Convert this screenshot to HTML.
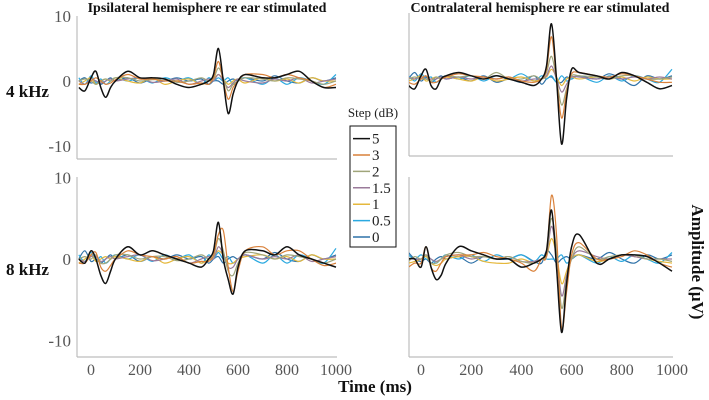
<!DOCTYPE html>
<html><head><meta charset="utf-8"><style>
body{margin:0;background:#fff;}
svg{display:block;font-family:"Liberation Serif",serif;}
</style></head><body>
<svg id="chart" width="709" height="400" viewBox="0 0 709 400">
<g font-weight="bold" font-size="14" fill="#111">
<text x="207" y="12" text-anchor="middle">Ipsilateral hemisphere re ear stimulated</text>
<text x="540" y="12" text-anchor="middle">Contralateral hemisphere re ear stimulated</text>
<text x="6" y="97" font-size="17">4 kHz</text>
<text x="6" y="275" font-size="17">8 kHz</text>
<text x="375" y="392" text-anchor="middle" font-size="17">Time (ms)</text>
<text transform="translate(692,262) rotate(90)" text-anchor="middle" font-size="17">Amplitude (μV)</text>
</g>
<g id="panels"></g>
<g>
<text x="373" y="117" text-anchor="middle" font-size="13" fill="#222">Step (dB)</text>
<rect x="350" y="126" width="46" height="121" fill="#fff" stroke="#111" stroke-width="1"/>
<g id="legend-items"></g>
</g>
</svg>
<script>
const times=[-50,-25,0,20,40,60,80,100,150,200,250,300,350,400,450,480,500,520,540,560,580,600,630,700,750,800,850,900,950,1000];
const stepLabels=["5","3","2","1.5","1","0.5","0"];
const colors=["#111111","#d9813a","#a0a57a","#9a7a9a","#e5b83c","#2aa9e0","#2f72a8"];
const yTicks=[10,0,-10];
const xTicks=[0,200,400,600,800,1000];
const ipsi4=[
[-1,-1.5,0.5,1.5,-1,-2.5,-1,0,1.5,0.5,0.5,0.3,-0.5,-1,-0.5,0,1,5,0,-5,-2,0,1,0.5,0.5,1,1.5,0,-1,-1],
[-0.5,-0.5,0,0.5,0,-0.5,-0.3,0.2,1,0.3,0.3,0,0,-0.5,-0.3,-0.5,0.5,3,0,-2.8,-1,0,1,1,0.5,1,0.5,0,-1,-0.5],
[0,0.3,0,-0.5,0,0.3,0,0.5,0.5,0,0.2,0.3,-0.2,0,0.5,0,0.3,2,0.5,-1.5,-0.5,0,0.5,0.3,0,0.5,0.3,0,-0.5,0],
[0,-0.5,0.3,0,-0.3,0,0.3,0,0.3,0.5,-0.2,0,0.3,-0.5,0,0.3,0,1,0,-1,-0.3,0.3,0,-0.3,0.3,0,0.5,-0.3,0,0.3],
[-0.5,0,0.5,-0.5,0,0.3,0,0.5,0,-0.3,0.5,-0.5,0,0.3,-0.5,0,0.3,1,0.3,-0.5,0,0.3,-0.3,0.5,0,0.3,-0.3,0.5,0,0],
[0.5,-0.5,0.8,-0.3,0.3,-0.5,0,0.5,0,0.5,-0.3,0.5,0,0.5,-0.5,0.5,0,0.5,0,0.5,-0.5,0,0.5,-0.5,0.5,-0.5,0.5,0,-0.5,1],
[0,0.5,-0.3,0,-0.5,0,0.5,0,0.5,-0.3,0.3,0,0.5,0,0.3,-0.5,0,0,-0.5,0,0.3,0,0.5,0,0.8,0,-0.3,0.5,0,0.5]];
const contra4=[
[-1,-1.5,0.5,1.5,-1,-1.5,0,0.5,1,0.5,0,0.5,0,-0.5,-1,0,2,8.5,0,-10,-3,1.5,1,0.5,0,1,0.5,-0.5,-1.5,-1],
[-0.5,-0.8,0,0.5,-0.5,-0.5,0,0.3,0.8,0.5,0.3,0,0.3,-0.3,-0.5,0,1.5,6.5,0,-6,-2,0.8,1,0.5,0.3,0.8,0.5,0,-0.5,-0.5],
[0,0.3,0,0,-0.3,0.3,0,0.5,0.3,0.5,0,1,0,0,0.5,0,1,3.5,0,-4,-1.5,0.5,0.5,0.3,0,0.5,0.5,0,0,0.3],
[0.3,0,0.3,0,0,0,0.3,0,0.3,0,0.3,0,0.3,-0.3,0,0,0.5,2,0,-2,-0.8,0.3,0.3,0,0.3,0,0.3,0,0.3,0],
[-0.3,0,0.5,-0.3,0,0.3,0,0.3,0,-0.3,0.3,-0.3,0,0.3,-0.3,0,0.3,1.5,0.3,-1,0,0.3,0,0.3,0,0.3,-0.3,0.3,0,0],
[0.5,-0.3,0.8,0,0.3,-0.5,0,0.5,0,0.5,-0.3,0.5,0,0.8,-0.3,0.5,0,0.5,-0.5,0.5,-0.3,0,0.5,-0.5,0.5,-0.3,0.5,0,-0.5,1.5],
[0,1,-0.3,0.3,-0.5,0,0.5,0,0.3,-0.3,0.5,-0.5,0,-0.5,0.5,-0.8,0,0.3,-0.5,-0.5,0.3,0,0.5,0,0.8,0,-1,0.5,0,0.5]];
const ipsi8=[
[0,-0.5,1,0,-2,-3,-1.5,0,1.5,0.5,1,0.5,0,-0.5,-1,0,1,4.5,0,-2.5,-4.3,-1,1,1,0.5,1.5,0.5,0,-0.5,-1],
[-0.5,-0.5,0.5,0.8,-1,-1.5,-0.8,0,1,0.5,0.3,0,0.3,-0.5,-0.3,-0.3,0.5,3,3.5,-1,-4,-1.5,1,1.5,0.5,1,1,0,-0.8,-0.5],
[0,0.3,0,0.5,-0.5,-0.5,0,0.5,0.5,0,0.3,0.3,-0.2,0,0.5,0,0.3,2.5,1,-1.5,-2,-0.5,0.8,0.5,0,0.5,0.3,0,-0.5,0],
[0,-0.3,0.3,0.3,-0.3,0,0.3,0,0.3,0.5,-0.2,0,0.3,-0.5,0,0.3,0,1.5,0.5,-1,-1,0,0.5,0,0.3,0,0.5,-0.3,0,0.3],
[-0.5,0,0.5,-0.3,0,0.3,0,0.3,0,-0.3,0.3,-0.5,0,0.3,-0.5,0,0.3,1,0.5,-0.5,-0.5,0,0.3,0.5,0,0.3,-0.3,0.5,0,0],
[0.5,-0.3,0.8,-0.3,0.3,-0.5,0,0.5,0,0.5,-0.3,0.5,0,0.5,-0.5,0.5,0,0.8,0,0.3,-0.5,0,0.5,-0.5,0.5,-0.5,0.5,0,-0.5,1.3],
[0,1,-0.3,0,-0.5,0,0.5,0,0.5,-0.3,0.3,0,0.5,0,0.3,-0.5,0,0.3,-0.5,0,0.3,0,0.5,0,0.8,0,-0.3,0.5,0,0.5]];
const contra8=[
[0,0,-1,1.5,-1,-2.5,-2,-0.5,1.5,1,0.5,0,0,-1,-0.5,0,1,6,-1,-9,-3,1.5,3,-0.5,0,0.5,0.5,0.3,-0.5,-1.5],
[-1,-0.5,-0.5,1.5,-1,-1.5,-0.5,0.3,0.5,0.5,0.8,0.3,0,-0.5,-1.5,0,0.5,7.8,3,-8.5,-4,0.5,2,0,0,0.3,1,0.5,-0.5,-1],
[-0.3,0.3,0,0.5,-0.5,-0.5,0,0.5,0.8,0.3,0.3,0,0.3,-0.3,-0.5,0,0.5,5,1,-6,-2.5,0,1.5,0,0.3,0.5,0.5,0,0,-0.3],
[0,0,0,0.5,0,-0.3,0,0.3,0.5,0,0.3,0,0.3,-0.3,-0.3,0,0.3,4,0.5,-4.5,-2,0,1,0.3,0,0.5,0.3,0,0,0],
[-0.5,-0.3,0,0.3,-0.5,-0.8,-0.5,0,0.3,0.3,-0.3,-0.5,-0.5,0,-0.5,0,0.3,2.5,0.5,-3,-1.5,0,0.5,-0.3,0,0.5,0.3,0,-0.3,-0.5],
[0.5,0,0.5,0,0,-0.5,0,0.5,0,0.5,-0.3,0.5,0,0.5,-0.3,0.5,0,0,0,0.5,-0.5,0,0.5,-0.5,0.3,-0.3,0.5,0,-0.5,0.8],
[0.8,0,-0.3,0,-0.5,0,0.3,0,0.3,-0.5,0.3,0,0,0.5,-0.3,-0.5,1,0.5,-0.5,0,0.3,0,0.5,0,0.8,0,-0.5,0.5,0,0.5]];

const NS="http://www.w3.org/2000/svg";
const panelsG=document.getElementById('panels');
function mk(tag,attrs,parent){const e=document.createElementNS(NS,tag);for(const k in attrs)e.setAttribute(k,attrs[k]);parent.appendChild(e);return e;}
const panels=[
{name:'ipsi-4khz',data:ipsi4,ax:77,x0:91,x1000:336,xEnd:337,yTop:16,yBot:159,y0:81,yk:6.5,yLabels:true,xLabels:false},
{name:'contra-4khz',data:contra4,ax:409,x0:421,x1000:672,xEnd:673,yTop:13,yBot:156,y0:79,yk:6.5,yLabels:false,xLabels:false},
{name:'ipsi-8khz',data:ipsi8,ax:77,x0:91,x1000:336,xEnd:337,yTop:177,yBot:357,y0:259,yk:8.15,yLabels:true,xLabels:true},
{name:'contra-8khz',data:contra8,ax:409,x0:421,x1000:672,xEnd:673,yTop:177,yBot:357,y0:259,yk:8.15,yLabels:false,xLabels:true}];
panels.forEach((p,pi)=>{
  const g=mk('g',{},panelsG);
  
  
  const xs=t=>p.x0+t*(p.x1000-p.x0)/1000;
  const ys=v=>p.y0-v*p.yk;
  const cid='clip'+pi;
  const cp=mk('clipPath',{id:cid},g);
  mk('rect',{x:p.ax,y:p.yTop,width:p.xEnd-p.ax,height:p.yBot-p.yTop},cp);
  const ya=mk('line',{x1:p.ax,y1:p.yTop,x2:p.ax,y2:p.yBot,stroke:'#bdbdbd','stroke-width':1.2},g);
  
  
  const xa=mk('line',{x1:p.ax,y1:p.yBot,x2:p.xEnd,y2:p.yBot,stroke:'#bdbdbd','stroke-width':1.2},g);
  
  
  if(p.yLabels){yTicks.forEach(v=>{const t=mk('text',{x:p.ax-6,y:ys(v)+6,'text-anchor':'end','font-size':17,fill:'#555'},g);t.textContent=v;
    
    });}
  if(p.xLabels){xTicks.forEach(v=>{const t=mk('text',{x:xs(v),y:p.yBot+18,'text-anchor':'middle','font-size':16,fill:'#555'},g);t.textContent=v;
    
    });}
  const lg=mk('g',{'clip-path':'url(#'+cid+')'},g);
  for(let s=p.data.length-1;s>=0;s--){
    const pts=times.map((t,i)=>[xs(t),ys(p.data[s][i])]);
    let d='M'+pts[0][0].toFixed(1)+','+pts[0][1].toFixed(1);
    for(let i=0;i<pts.length-1;i++){
      const a=pts[Math.max(0,i-1)],b=pts[i],c=pts[i+1],e=pts[Math.min(pts.length-1,i+2)];
      const c1=[b[0]+(c[0]-a[0])/6,b[1]+(c[1]-a[1])/6],c2=[c[0]-(e[0]-b[0])/6,c[1]-(e[1]-b[1])/6];
      d+='C'+c1[0].toFixed(1)+','+c1[1].toFixed(1)+' '+c2[0].toFixed(1)+','+c2[1].toFixed(1)+' '+c[0].toFixed(1)+','+c[1].toFixed(1);
    }
    const path=mk('path',{d:d,fill:'none',stroke:colors[s],'stroke-width':s==0?1.5:1.2},lg);
    
    
  }
});
const li=document.getElementById('legend-items');
stepLabels.forEach((l,i)=>{
  const y=138.6+i*16.4;
  const ln=mk('line',{x1:353,y1:y,x2:370,y2:y,stroke:colors[i],'stroke-width':1.5},li);
  
  
  const t=mk('text',{x:372,y:y+5,'font-size':15,fill:'#222'},li);
  t.textContent=l;
  
  
});
</script>
</body></html>
